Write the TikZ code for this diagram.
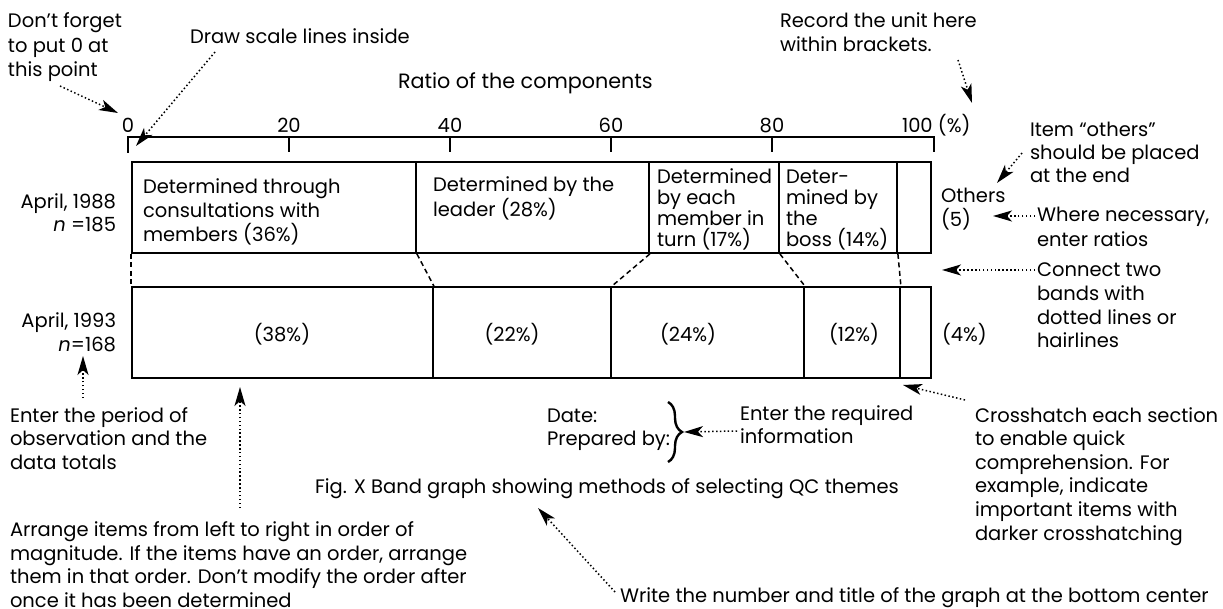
\documentclass[tikz,border=0pt]{standalone}
\usepackage{fontspec}
\setmainfont{Poppins}
\usetikzlibrary{arrows.meta,decorations.pathreplacing}
\tikzset{
  txt/.style={inner sep=0pt, outer sep=0pt, align=left, anchor=base west,
    font=\fontsize{19.5}{23.5}\selectfont},
  lbl/.style={inner sep=0pt, outer sep=0pt, anchor=base, font=\fontsize{19.5}{23.5}\selectfont},
  seg/.style={draw, line width=1.8pt, inner sep=0pt, minimum height=91pt},
  axisline/.style={line width=1.8pt},
  conn/.style={line width=1.5pt, dash pattern=on 5pt off 3.5pt},
  note/.style={line width=1.5pt, dash pattern=on 1.5pt off 2.4pt,
    -{Stealth[length=19pt,width=11pt,inset=5pt]}},
}
\begin{document}
\begin{tikzpicture}[x=1pt,y=-1pt]
\useasboundingbox (0,0) rectangle (1223,609);

% scale
\draw[axisline] (128,153) -- (128,137) -- (933.8,137) -- (933.8,152);
\foreach \t in {289,450,611,772} \draw[axisline] (\t,137) -- (\t,152);
\node[lbl] (t0) at (128,133) {0};
\node[lbl] (t20) at (289,133) {20};
\node[lbl] (t40) at (450,133) {40};
\node[lbl] (t60) at (611,133) {60};
\node[lbl] (t80) at (772,133) {80};
\node[txt] (t100) at (902,133) {100 (\%)};
\node[txt, font=\fontsize{20.7}{24}\selectfont] (title) at (398,89) {Ratio of the components};

% band 1
\node[seg, minimum width=284pt] (b1a) at (274,207.5) {};
\node[seg, minimum width=233pt] (b1b) at (532.5,207.5) {};
\node[seg, minimum width=130pt] (b1c) at (714,207.5) {};
\node[seg, minimum width=118pt] (b1d) at (838,207.5) {};
\node[seg, minimum width=34pt] (b1e) at (914,207.5) {};
% band 2
\node[seg, minimum width=301pt] (b2a) at (282.5,332.5) {};
\node[seg, minimum width=178pt] (b2b) at (522,332.5) {};
\node[seg, minimum width=193pt] (b2c) at (707.5,332.5) {};
\node[seg, minimum width=96pt] (b2d) at (852,332.5) {};
\node[seg, minimum width=31pt] (b2e) at (915.5,332.5) {};

% connectors between bands
\draw[conn] (b1a.south west) -- (b2a.north west);
\draw[conn] (b1a.south east) -- (b2a.north east);
\draw[conn] (b1b.south east) -- (b2b.north east);
\draw[conn] (b1c.south east) -- (b2c.north east);
\draw[conn] (b1d.south east) -- (b2d.north east);

% band texts (base = baseline of the last line)
\node[txt, font=\fontsize{19.5}{24}\selectfont] (x1a) at (143,242) {Determined through\\consultations with\\members (36\%)};
\node[txt, font=\fontsize{19.5}{25}\selectfont] (x1b) at (433,217) {Determined by the\\leader (28\%)};
\node[txt, font=\fontsize{19.5}{21.3}\selectfont] (x1c) at (657,247) {Determined\\by each\\member in\\turn (17\%)};
\node[txt, font=\fontsize{19.5}{21.3}\selectfont] (x1d) at (786,247) {Deter-\\mined by\\the\\boss (14\%)};
\node[txt, font=\fontsize{19.5}{24}\selectfont] (oth) at (941,227) {Others\\(5)};

\node[lbl, anchor=center] (x2a) at (282,334) {(38\%)};
\node[lbl, anchor=center] (x2b) at (512,334) {(22\%)};
\node[lbl, anchor=center] (x2c) at (688,334) {(24\%)};
\node[lbl, anchor=center] (x2d) at (854,334) {(12\%)};
\node[lbl, anchor=west] (x2e) at (942,334) {(4\%)};

% left labels
\node[txt, anchor=base east, align=right, font=\fontsize{19.5}{23}\selectfont] (d88) at (116,232) {April, 1988\\\textit{n} =185};
\node[txt, anchor=base east, align=right, font=\fontsize{19.5}{24}\selectfont] (d93) at (116,352) {April, 1993\\\textit{n}=168};

% annotations
\node[txt, font=\fontsize{19.5}{24.5}\selectfont] (dont) at (8,77) {Don’t forget\\to put 0 at\\this point};
\coordinate (dontS) at (60,86);
\coordinate (dontE) at (118,113);
\draw[note] (dontS) -- (dontE);

\node[txt] (drw) at (190,44) {Draw scale lines inside};
\coordinate (drwS) at (215,52);
\coordinate (drwE) at (136,146);
\draw[note] (drwS) -- (drwE);

\node[txt, font=\fontsize{19.5}{24}\selectfont] (rec) at (780,52) {Record the unit here\\within brackets.};
\coordinate (recS) at (958,60);
\coordinate (recE) at (972,103);
\draw[note] (recS) -- (recE);

\node[txt, font=\fontsize{19.5}{23}\selectfont] (item) at (1030,183) {Item “others”\\should be placed\\at the end};
\coordinate (itemS) at (1022,153);
\coordinate (itemE) at (997,183);
\draw[note] (itemS) -- (itemE);

\node[txt, font=\fontsize{19.5}{24.5}\selectfont] (wn) at (1037,246.5) {Where necessary,\\enter ratios};
\coordinate (wnS) at (1035,216);
\coordinate (wnE) at (993,216);
\draw[note] (wnS) -- (wnE);

\node[txt, font=\fontsize{19.5}{23.7}\selectfont] (cn) at (1037,348) {Connect two\\bands with\\dotted lines or\\hairlines};
\coordinate (cnS) at (1035,270);
\coordinate (cnE) at (942,270);
\draw[note] (cnS) -- (cnE);

\node[txt] (ep) at (10,469) {Enter the period of\\observation and the\\data totals};
\coordinate (epS) at (83,398);
\coordinate (epE) at (83,356);
\draw[note] (epS) -- (epE);

\node[txt, font=\fontsize{19.5}{23.4}\selectfont] (arr) at (10,607) {Arrange items from left to right in order of\\magnitude. If the items have an order, arrange\\them in that order. Don’t modify the order after\\once it has been determined};
\coordinate (arrS) at (240,508);
\coordinate (arrE) at (240,387);
\draw[note] (arrS) -- (arrE);

\node[txt, font=\fontsize{19.5}{23}\selectfont] (date) at (547,445) {Date:\\Prepared by:};
\draw[decorate, decoration={brace, amplitude=14pt}, line width=2.4pt] (668,402) -- (668,462);
\coordinate (brace) at (684,432);
\node[txt, font=\fontsize{19.5}{23}\selectfont] (req) at (740,443) {Enter the required\\information};
\coordinate (reqS) at (737,431);
\draw[note] (reqS) -- (brace);

\node[txt] (fig) at (315,493) {Fig. X Band graph showing methods of selecting QC themes};

\node[txt] (wr) at (620,602) {Write the number and title of the graph at the bottom center};
\coordinate (wrS) at (615,592);
\coordinate (wrE) at (538,508);
\draw[note] (wrS) -- (wrE);

\node[txt, font=\fontsize{19.5}{23.6}\selectfont] (ch) at (975,540) {Crosshatch each section\\to enable quick\\comprehension. For\\example, indicate\\important items with\\darker crosshatching};
\coordinate (chS) at (965,400);
\coordinate (chE) at (903,385);
\draw[note] (chS) -- (chE);
\end{tikzpicture}
\end{document}
